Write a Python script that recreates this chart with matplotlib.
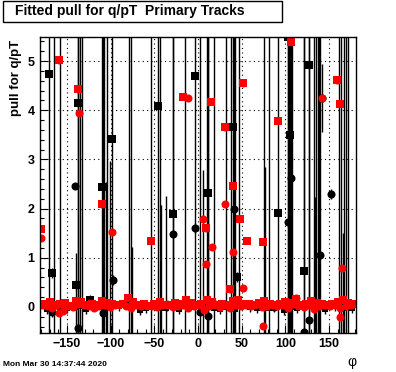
import matplotlib
matplotlib.use("Agg")
import matplotlib.pyplot as plt
from matplotlib.patches import Rectangle
from matplotlib.ticker import MultipleLocator

plt.rcParams['font.family'] = ['Liberation Sans', 'DejaVu Sans']

title = "Fitted pull for q/pT  Primary Tracks"
ylabel = "pull for q/pT"
xlabel = "\u03c6"
stamp = "Mon Mar 30 14:37:44 2020"

# black squares (phi, pull, error)
bsq_phi = [-170.5, -167, -139.6, -137.4, -124, -110, -98.6, -46, -29, -4, 12, 40.5, 45, 92, 103, 105.5, 121, 127]
bsq_pull = [4.74, 0.69, 0.45, 4.15, 0.14, 2.43, 3.41, 4.09, 1.89, 4.70, 2.31, 3.66, 0.61, 1.91, 5.49, 3.5, 0.73, 4.93]
bsq_err = [9, 0.1, 0.1, 9, 0.1, 9, 9, 9, 9, 9, 9, 9, 0.1, 9, 9, 9, 9, 9]

# black circles
bci_phi = [-167, -140.8, -137, -109, -97.5, -29, -3, 2, 12, 41.6, 87, 103, 106.6, 121, 127, 139.7, 142, 152]
bci_pull = [-0.1, 2.46, -0.43, -0.12, 0.55, 1.48, 1.6, -0.1, -0.18, 1.99, 0.0, 1.73, 2.62, -0.52, -0.27, 1.06, 4.25, 2.3]
bci_err = [0.1, 0.05, 9, 9, 0.1, 9, 0.1, 9, 9, 9, 0.1, 9, 9, 9, 9, 9, 0.7, 0.1]

# black points in the band near zero (mostly hidden under the red ones)
bband_phi = [-164.8, -158.3, -135.5, -132.5, -107.5, -104.3, -79.6, -77.3, -53.4, -43.1, -15.4,
             10, 18, 32.2, 37.9, 42.5, 46.5, 75.5, 81.9, 104.5, 108, 133, 135, 137, 138.9,
             161, 163.6, 166.7, 169.3, 172,
             -140, -101, -105, -76, -42, -37, 6.3, 76.5, 134.5, 166,
             -173, -150, -128, -90, -66, -60, -35, -22, 25, 60, 68, 98, 113, 145, 157, 176]
bband_pull = [0.02, -0.03, 0.01, 0.03, -0.02, 0.0, 0.04, -0.01, 0.02, -0.03, 0.01,
              0.03, -0.02, 0.0, 0.02, -0.04, 0.01, 0.03, -0.02, 0.01, 0.0, -0.03, 0.02, 0.01, -0.01,
              0.02, 0.0, -0.02, 0.03, 0.01,
              0.0, 0.02, -0.01, 0.01, 0.03, -0.02, 0.0, 0.02, -0.01, 0.01,
              -0.05, -0.02, -0.04, 0.01, -0.06, -0.03, 0.02, -0.05, -0.04, 0.0, -0.03, -0.06, -0.02, -0.04, 0.01, -0.03]
bband_err = [9, 9, 9, 9, 9, 9, 9, 9, 9, 9, 9,
             9, 9, 9, 9, 9, 9, 9, 9, 9, 9, 9, 9, 9, 9,
             9, 9, 9, 9, 9,
             1.1, 2.95, 2.56, 1.2, 2.05, 2.28, 2.78, 2.83, 2.24, 1.5,
             0.1, 0.1, 0.1, 0.1, 0.1, 0.1, 0.1, 0.1, 0.1, 0.1, 0.1, 0.1, 0.1, 0.1, 0.1, 0.1]

# red squares
rsq_phi = [-179.5, -159, -137.4, -110, -54, -17.7, 9.7, 15, 31, 37, 40.5, 48.5, 51, 56.6, 74.7, 91.8, 106.6, 159, 162.5,
           -176, -170, -164, -158, -152, -146, -140, -134, -128, -122, -116, -110, -104, -98, -92, -86, -80, -74,
           -68, -62, -56, -50, -44, -38, -32, -26, -20, -14, -8, -2, 4, 10, 16, 22, 28, 34, 40, 46, 52, 58, 64,
           70, 76, 82, 88, 94, 100, 106, 112, 118, 124, 130, 136, 142, 148, 154, 160, 166, 172, 178]
rsq_pull = [1.59, 5.02, 4.43, 2.09, 1.34, 4.27, 1.6, 4.17, 3.65, 0.36, 2.46, 1.79, 4.55, 1.34, 1.32, 3.79, 5.39, 4.61, 4.13,
            0.06, 0.10, 0.03, 0.05, 0.08, 0.02, 0.12, 0.09, 0.04, 0.06, 0.03, 0.11, 0.07, 0.05, 0.04, 0.06, 0.18, 0.09,
            0.03, 0.05, 0.02, 0.06, 0.10, 0.04, 0.03, 0.07, 0.05, 0.15, 0.08, 0.04, 0.06, 0.13, 0.09, 0.04, 0.05, 0.03,
            0.11, 0.14, 0.06, 0.05, 0.04, 0.07, 0.12, 0.05, 0.03, 0.06, 0.10, 0.08, 0.16, 0.04, 0.06, 0.12, 0.07, 0.05,
            0.04, 0.06, 0.09, 0.13, 0.07, 0.05]

# red circles
rci_phi = [-179.5, -136, -98.6, -12, 6.3, 9.7, 16, 31.4, 40.5, 52, 74.7, 112, 142, 162.5, 165, -159,
           -179, -173, -167, -161, -155, -149, -143, -137, -131, -125, -119, -113, -107, -101, -95, -89, -83, -77,
           -71, -65, -59, -53, -47, -41, -35, -29, -23, -17, -11, -5, 1, 7, 13, 19, 25, 31, 37, 43, 49, 55, 61,
           67, 73, 79, 85, 91, 97, 103, 109, 115, 121, 127, 133, 139, 145, 151, 157, 163, 169, 175]
rci_pull = [1.4, 3.94, 1.52, 4.25, 1.79, 0.87, 1.22, 2.1, 1.12, 0.38, -0.39, 0.18, 4.24, -0.2, 0.79, -0.12,
            0.03, 0.01, -0.02, 0.04, -0.08, 0.02, 0.00, 0.05, 0.03, 0.01, -0.03, 0.02, 0.04, 0.00, 0.03, 0.06, 0.02,
            -0.02, 0.03, 0.01, 0.04, 0.02, -0.01, 0.03, 0.05, 0.00, 0.02, 0.04, -0.03, 0.01, 0.03, -0.06, 0.02, 0.05,
            0.00, 0.03, -0.02, 0.04, 0.01, 0.03, 0.02, 0.05, -0.01, 0.02, 0.04, 0.01, 0.03, -0.02, 0.06, 0.02, 0.00,
            0.04, -0.05, 0.02, 0.03, 0.01, 0.04, -0.03, 0.02, 0.03]

fig = plt.figure(figsize=(3.96, 3.72), dpi=100)
ax = fig.add_axes([0.101, 0.105, 0.798, 0.7955])

# black series first, red on top
ax.errorbar(bband_phi, bband_pull, yerr=bband_err, fmt='s', color='black', ms=4.5, mew=0,
            elinewidth=1.0, capsize=0)
ax.errorbar(bsq_phi, bsq_pull, yerr=bsq_err, fmt='s', color='black', ms=5.2, mew=0,
            elinewidth=1.0, capsize=0)
ax.errorbar(bci_phi, bci_pull, yerr=bci_err, fmt='o', color='black', ms=5.8, mew=0,
            elinewidth=1.0, capsize=0)
ax.errorbar(rci_phi, rci_pull, yerr=0.06, fmt='o', color='red', ms=5.8, mew=0,
            elinewidth=1.8, capsize=0)
ax.errorbar(rsq_phi, rsq_pull, yerr=0.07, fmt='s', color='red', ms=5.2, mew=0,
            elinewidth=1.8, capsize=0)

ax.set_xlim(-181, 181)
ax.set_ylim(-0.53, 5.49)
ax.xaxis.set_major_locator(MultipleLocator(50))
ax.xaxis.set_minor_locator(MultipleLocator(10))
ax.yaxis.set_major_locator(MultipleLocator(1))
ax.yaxis.set_minor_locator(MultipleLocator(0.2))
ax.grid(True, which='major', color='black', linestyle=(0, (1, 3)), linewidth=0.8)
ax.tick_params(which='both', direction='in', top=False, right=False, labelsize=9, width=0.8)
ax.tick_params(which='major', length=6, pad=4)
ax.tick_params(which='minor', length=3)
for lab in ax.get_xticklabels() + ax.get_yticklabels():
    lab.set_fontweight('bold')
for s in ax.spines.values():
    s.set_linewidth(1.0)

# title box
fig.patches.append(Rectangle((3 / 396, 1 - 22 / 372), 279 / 396, 21 / 372, transform=fig.transFigure,
                             facecolor='white', edgecolor='black', linewidth=1.0))
fig.text(15 / 396, 1 - 11.5 / 372, title, fontsize=10, fontweight='bold', ha='left', va='center')

fig.text(16 / 396, 1 - 40 / 372, ylabel, fontsize=9.5, fontweight='bold', rotation=90, ha='center', va='top')
fig.text(352 / 396, 1 - 362 / 372, xlabel, fontsize=10, ha='center', va='center')
fig.text(3 / 396, 1 - 365 / 372, stamp, fontsize=6, fontweight='bold', ha='left', va='center')

fig.savefig("out.png", dpi=100)
